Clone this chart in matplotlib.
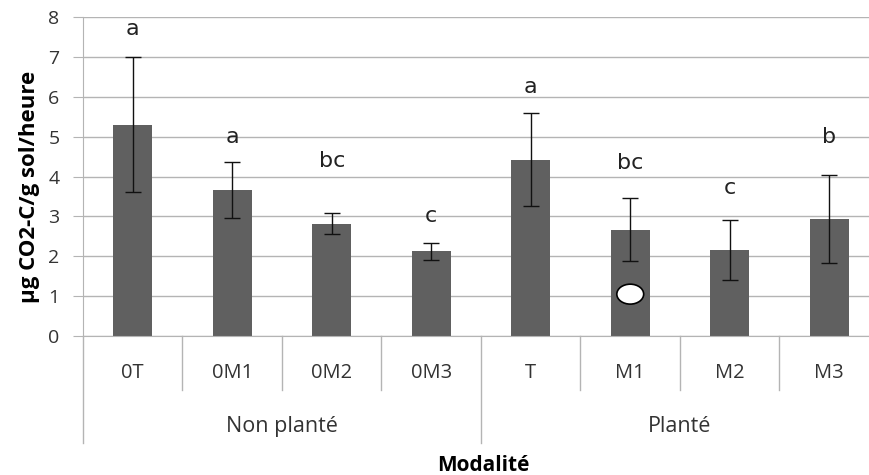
import matplotlib.pyplot as plt
from matplotlib.patches import Ellipse
import matplotlib.transforms as mtransforms

# data
categories = ["0T", "0M1", "0M2", "0M3", "T", "M1", "M2", "M3"]
groups = ["Non planté", "Planté"]
means = [5.30, 3.66, 2.82, 2.12, 4.42, 2.67, 2.16, 2.94]
errors = [1.70, 0.70, 0.26, 0.21, 1.17, 0.78, 0.76, 1.10]
letters = ["a", "a", "bc", "c", "a", "bc", "c", "b"]
letter_y = [7.7, 5.0, 4.4, 3.0, 6.25, 4.35, 3.7, 5.0]

plt.rcParams['font.family'] = ['Open Sans', 'DejaVu Sans']

fig = plt.figure(figsize=(8.69, 4.75), dpi=100)
ax = fig.add_axes([0.0955, 0.2926, 0.916, 0.6716])

grid_col = "#b4b4b4"
text_col = "#333333"
x = list(range(len(categories)))
ax.bar(x, means, width=0.39, color="#606060", zorder=2)
ax.errorbar(x, means, yerr=errors, fmt="none", ecolor="#111111",
            elinewidth=1, capsize=6, capthick=1, zorder=3)

for xi, lab, ly in zip(x, letters, letter_y):
    ax.text(xi, ly, lab, ha="center", va="center", fontsize=16,
            family="DejaVu Sans", color="#222222")

# white marker on M1 bar
ax.add_patch(Ellipse((5, 1.05), 0.27, 0.5, facecolor="white",
                     edgecolor="black", linewidth=1.2, zorder=4))

ax.set_xlim(-0.5, len(categories) - 0.5)
ax.set_ylim(0, 8)
ax.set_yticks(range(9))
ax.yaxis.grid(True, color=grid_col, linewidth=1)
ax.set_axisbelow(True)
for s in ["top", "right"]:
    ax.spines[s].set_visible(False)
ax.spines["left"].set_color(grid_col)
ax.spines["bottom"].set_color(grid_col)
ax.tick_params(axis="y", length=7, color=grid_col, labelsize=14,
               labelcolor=text_col, pad=10)
ax.tick_params(axis="x", length=0, labelbottom=False)

# multi-level category axis
trans = mtransforms.blended_transform_factory(ax.transData, ax.transAxes)
for xi, lab in zip(x, categories):
    ax.text(xi, -0.132, lab, transform=trans, ha="center", va="baseline",
            fontsize=14.5, color=text_col)
for i in range(1, len(categories)):
    low = -0.335 if i == 4 else -0.169
    ax.plot([i - 0.5, i - 0.5], [0, low], transform=trans, color=grid_col,
            linewidth=1, clip_on=False)
ax.plot([-0.5, -0.5], [0, -0.335], transform=trans, color=grid_col,
        linewidth=1, clip_on=False)
for gi, g in enumerate(groups):
    ax.text(gi * 4 + 1.5, -0.301, g, transform=trans, ha="center",
            va="baseline", fontsize=15.5, color=text_col)

fig.text(483 / 869, 0.008, "Modalité", ha="center", va="baseline",
         fontsize=15, fontweight="bold")
fig.text(30 / 869, 1 - 187 / 475, "µg CO2-C/g sol/heure", rotation=90,
         ha="center", va="center", fontsize=16, fontweight="bold")

fig.savefig("out.png", dpi=100)
